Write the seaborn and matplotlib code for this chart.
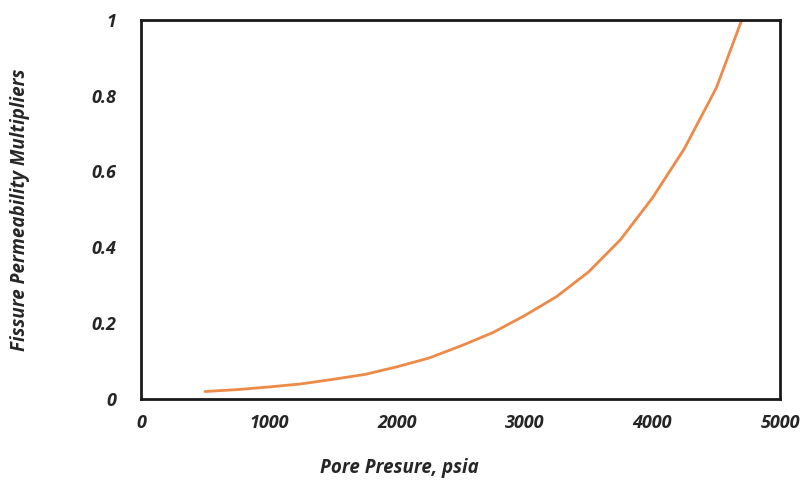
import pandas as pd
import seaborn as sns
import matplotlib.pyplot as plt

# 데이터
pore_pressure = [500, 750, 1000, 1250, 1500, 1750, 2000, 2250, 2500, 2750,
                 3000, 3250, 3500, 3750, 4000, 4250, 4500, 4700]
multiplier = [0.02, 0.025, 0.032, 0.04, 0.052, 0.065, 0.085, 0.108, 0.14, 0.175,
              0.22, 0.27, 0.335, 0.42, 0.53, 0.66, 0.82, 1.0]
x_ticks = [0, 1000, 2000, 3000, 4000, 5000]
y_ticks = [0, 0.2, 0.4, 0.6, 0.8, 1]
y_tick_labels = ['0', '0.2', '0.4', '0.6', '0.8', '1']

df = pd.DataFrame({'pressure': pore_pressure, 'mult': multiplier})

sns.set_style('white')
plt.rcParams['font.family'] = ['Open Sans', 'DejaVu Sans']

fig = plt.figure(figsize=(8.11, 4.82), dpi=100)
ax = fig.add_axes([0.174, 0.172, 0.788, 0.787])

sns.lineplot(data=df, x='pressure', y='mult', color='#EE8A48', linewidth=2, ax=ax)

ax.set_xlim(0, 5000)
ax.set_ylim(0, 1)
ax.set_xticks(x_ticks)
ax.set_xticklabels([str(t) for t in x_ticks])
ax.set_yticks(y_ticks)
ax.set_yticklabels(y_tick_labels)
ax.tick_params(axis='both', length=0, labelsize=13)
ax.tick_params(axis='x', pad=11)
ax.tick_params(axis='y', pad=18)
for lbl in ax.get_xticklabels() + ax.get_yticklabels():
    lbl.set_fontweight('bold')
    lbl.set_fontstyle('italic')
    lbl.set_color('#262626')

for sp in ax.spines.values():
    sp.set_color('#1a1a1a')
    sp.set_linewidth(2)

ax.set_xlabel('Pore Presure, psia', fontsize=13.5, fontweight='bold', fontstyle='italic',
              color='#262626', va='center')
ax.xaxis.set_label_coords(0.404, -0.182)
ax.set_ylabel('Fissure Permeability Multipliers', fontsize=13.5, fontweight='bold',
              fontstyle='italic', color='#262626', va='center')
ax.yaxis.set_label_coords(-0.189, 0.5)

fig.savefig('out.png', dpi=100)
